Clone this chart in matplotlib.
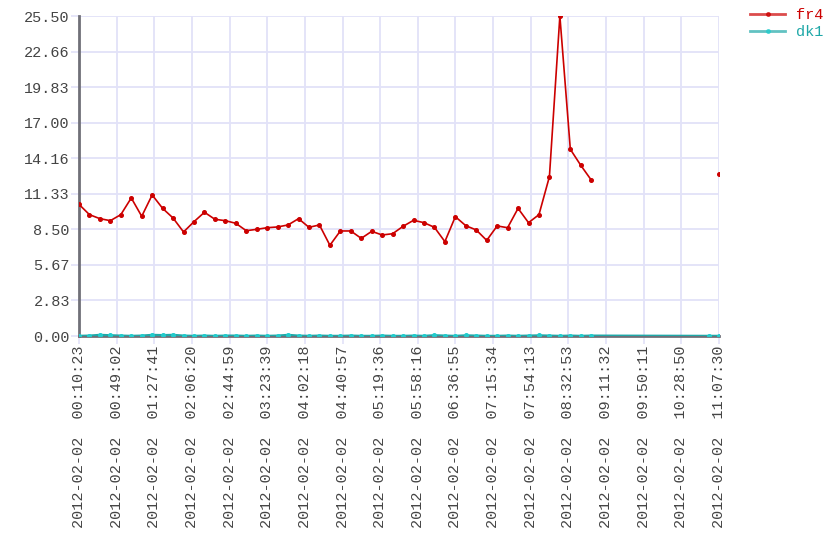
import matplotlib  # nopep8
matplotlib.use('Agg')  # nopep8
import numpy as np
import pandas as pd
import matplotlib.pyplot as plt
import matplotlib.dates as mdates

times = ['00:10:23', '00:21:07', '00:31:51', '00:42:35', '00:53:19',
         '01:04:03', '01:14:47', '01:25:31', '01:36:15', '01:46:59',
         '01:57:43', '02:08:27', '02:19:11', '02:29:55', '02:40:39',
         '02:51:23', '03:02:07', '03:12:51', '03:23:35', '03:34:19',
         '03:45:03', '03:55:47', '04:06:31', '04:17:15', '04:27:59',
         '04:38:43', '04:49:27', '05:00:11', '05:10:55', '05:21:39',
         '05:32:23', '05:43:07', '05:53:51', '06:04:35', '06:15:19',
         '06:26:03', '06:36:47', '06:47:31', '06:58:15', '07:08:59',
         '07:19:43', '07:30:27', '07:41:11', '07:51:55', '08:02:39',
         '08:13:23', '08:24:07', '08:34:51', '08:45:35', '08:56:19',
         '10:56:59', '11:07:30']

fr4 = [10.49, 9.67, 9.35, 9.19, 9.67, 11.00, 9.54, 11.24, 10.17, 9.40,
       8.29, 9.11, 9.86, 9.30, 9.19, 8.98, 8.39, 8.50, 8.63, 8.69,
       8.85, 9.35, 8.66, 8.85, 7.23, 8.37, 8.37, 7.78, 8.34, 8.05,
       8.15, 8.74, 9.22, 9.03, 8.66, 7.52, 9.51, 8.79, 8.45, 7.62,
       8.77, 8.63, 10.17, 9.03, 9.67, 12.70, 25.50, 14.88, 13.60, 12.43,
       np.nan, 12.88]

dk1 = [0.0, 0.02, 0.08, 0.05, 0.02, 0.0, 0.02, 0.08, 0.06, 0.08,
       0.02, 0.0, 0.02, 0.0, 0.02, 0.02, 0.0, 0.02, 0.0, 0.02,
       0.08, 0.02, 0.0, 0.02, 0.0, 0.0, 0.02, 0.0, 0.0, 0.02,
       0.0, 0.0, 0.02, 0.0, 0.05, 0.02, 0.0, 0.04, 0.02, 0.0,
       0.0, 0.02, 0.0, 0.02, 0.04, 0.02, 0.0, 0.02, 0.0, 0.02,
       0.0, 0.0]

ytick_labels = ['0.00', '2.83', '5.67', '8.50', '11.33',
                '14.16', '17.00', '19.83', '22.66', '25.50']

x = pd.to_datetime(['2012-02-02 ' + t for t in times])

mono = 'Liberation Mono'
grid_col = '#e2e2f8'

fig = plt.figure(figsize=(8.4, 5.6), dpi=100)
ax = fig.add_axes([79 / 840, 1 - 336 / 560, 640 / 840, 320 / 560])

ax.plot(x, fr4, '-', color='#cc0000', lw=1.2, marker='o', ms=2.6,
        label='fr4', zorder=3)
ax.plot(x, dk1, '-', color='#1fa8a8', lw=1.8, marker='o', ms=2.6,
        mfc='#22cccc', mec='#22cccc', label='dk1', zorder=3)

xmin = mdates.date2num(x[0])
xmax = mdates.date2num(x[-1])
ax.set_xlim(xmin, xmax)
ax.set_ylim(0, 25.5)
ax.set_xticks(np.linspace(xmin, xmax, 18))
ax.xaxis.set_major_formatter(mdates.DateFormatter('%Y-%m-%d  %H:%M:%S'))
ax.set_yticks(np.linspace(0, 25.5, 10))
ax.set_yticklabels(ytick_labels)

for lab in ax.get_xticklabels():
    lab.set_rotation(90)
for lab in ax.get_xticklabels() + ax.get_yticklabels():
    lab.set_family(mono)
    lab.set_fontsize(10.9)
    lab.set_color('#444444')

ax.tick_params(length=6, width=1.2, color=grid_col, pad=0.5)
ax.grid(True, color=grid_col, lw=1.3, zorder=0)
ax.set_axisbelow(True)
for s in ['top', 'right']:
    ax.spines[s].set_visible(False)
for s in ['left', 'bottom']:
    ax.spines[s].set_color('#707078')
    ax.spines[s].set_linewidth(2)

leg = ax.legend(loc='upper left', bbox_to_anchor=(750 / 840, 1 - 8 / 560),
                bbox_transform=fig.transFigure, frameon=False,
                prop={'family': mono, 'size': 11}, labelcolor='linecolor',
                handlelength=2.3, handletextpad=0.7, labelspacing=0.2,
                borderpad=0, borderaxespad=0)
for h in leg.legend_handles:
    h.set_linewidth(2)
    h.set_alpha(0.7)

fig.savefig('out.png', dpi=100)
